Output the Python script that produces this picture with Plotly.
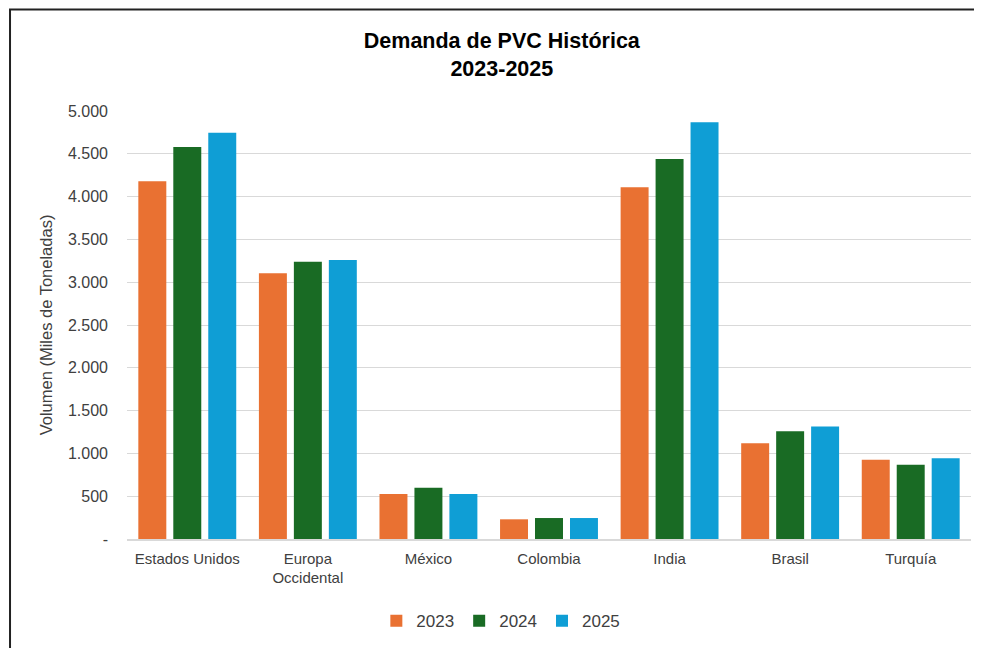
import plotly.graph_objects as go

# data (miles de toneladas)
paises = ["Estados Unidos", "Europa<br>Occidental", "México", "Colombia", "India", "Brasil", "Turquía"]
demanda_2023 = [4180, 3105, 525, 230, 4110, 1120, 925]
demanda_2024 = [4580, 3240, 600, 245, 4440, 1260, 868]
demanda_2025 = [4745, 3260, 525, 245, 4870, 1315, 942]
anios = ["2023", "2024", "2025"]
tick_vals = [0, 500, 1000, 1500, 2000, 2500, 3000, 3500, 4000, 4500, 5000]
tick_text = ["-", "500", "1.000", "1.500", "2.000", "2.500", "3.000", "3.500", "4.000", "4.500", "5.000"]

COLORS = ["#E97132", "#196B24", "#0F9ED5"]
TEXT = "#404040"
GRID = "#D9D9D9"
SANS = "Liberation Sans, Arial, sans-serif"

fig = go.Figure()
for name, vals, col in zip(anios, [demanda_2023, demanda_2024, demanda_2025], COLORS):
    fig.add_trace(go.Bar(
        x=paises, y=vals, name=name,
        marker=dict(color=col, line=dict(width=0)),
        hovertemplate="<b>%{x}</b><br>" + name + ": %{y:,}<extra></extra>",
    ))

# page body has an 8px margin, so the figure is 974x640 to fill the window
fig.update_layout(
    width=974, height=640,
    paper_bgcolor="white", plot_bgcolor="white",
    barmode="group", bargap=0.13, bargroupgap=0.2,
    margin=dict(l=119, r=11, t=103, b=109),
    title=dict(
        text="<b>Demanda de PVC Histórica<br>2023-2025</b>",
        x=0.507, xanchor="center", y=0.937, yanchor="middle",
        font=dict(family=SANS, size=21.5, color="#000000"),
    ),
    legend=dict(
        orientation="h", xref="container", yref="container",
        x=0.506, xanchor="center", y=0.042, yanchor="middle",
        font=dict(family=SANS, size=17, color=TEXT),
        itemwidth=30, traceorder="normal",
    ),
    # chart-area border (cropped on the right and bottom, as in the reference)
    shapes=[dict(
        type="rect", xref="paper", yref="paper",
        x0=-0.1386, x1=1.2, y0=-0.5, y1=1.237,
        line=dict(color="#222222", width=2), fillcolor="rgba(0,0,0,0)",
        layer="above",
    )],
)
fig.update_xaxes(
    showgrid=False, showline=True, linecolor=GRID, linewidth=1.5,
    tickfont=dict(family=SANS, size=15, color=TEXT), ticks="", ticklabelstandoff=5,
)
fig.update_yaxes(
    range=[0, 5000], tickvals=tick_vals, ticktext=tick_text,
    showgrid=True, gridcolor=GRID, gridwidth=1, zeroline=False, showline=False,
    tickfont=dict(family=SANS, size=16, color=TEXT), ticklabelstandoff=18,
    title=dict(text="Volumen (Miles de Toneladas)", font=dict(family=SANS, size=16.5, color=TEXT), standoff=11),
)

fig.write_html("out.html")
